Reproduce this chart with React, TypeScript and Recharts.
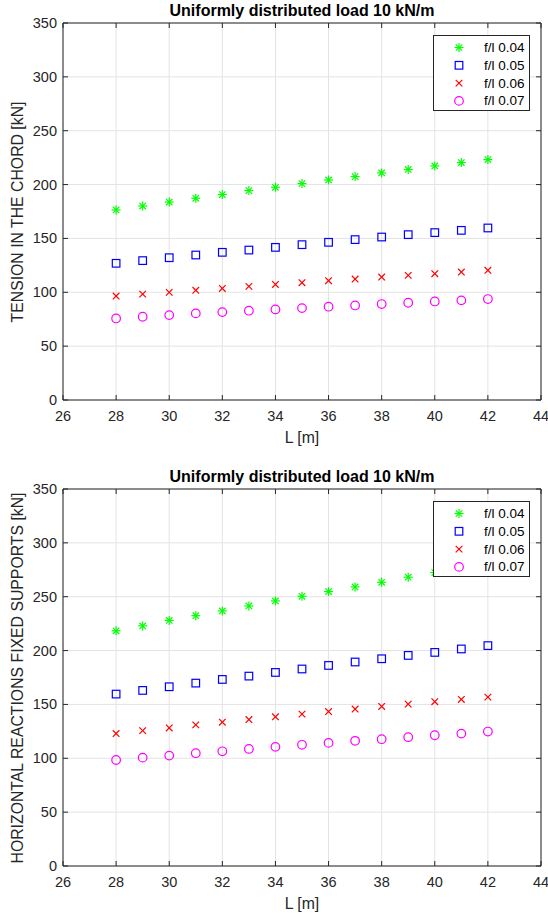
import React from "react";
import {
  ScatterChart,
  Scatter,
  XAxis,
  YAxis,
  CartesianGrid,
  ReferenceLine,
} from "recharts";

// span lengths L [m]
const spans = [28, 29, 30, 31, 32, 33, 34, 35, 36, 37, 38, 39, 40, 41, 42];

// tension in the chord [kN]
const tensionF004 = [176.4, 180.1, 183.8, 187.3, 190.7, 194.4, 197.5, 200.9, 204.3, 207.4, 210.8, 214.0, 217.3, 220.4, 223.2];
const tensionF005 = [126.9, 129.4, 132.1, 134.6, 137.1, 139.2, 141.7, 144.2, 146.4, 148.9, 151.3, 153.5, 155.4, 157.5, 159.7];
const tensionF006 = [96.5, 98.3, 99.9, 101.8, 103.6, 105.5, 107.3, 108.9, 110.8, 112.3, 114.1, 115.7, 117.3, 118.8, 120.4];
const tensionF007 = [75.7, 77.3, 78.8, 80.4, 81.6, 82.9, 84.1, 85.3, 86.6, 87.8, 89.1, 90.3, 91.5, 92.5, 93.7];

// horizontal reactions, fixed supports [kN]
const reactionF004 = [218.4, 222.9, 228.0, 232.4, 236.8, 241.4, 246.1, 250.4, 254.8, 259.1, 263.4, 268.1, 272.4, 276.8, 281.2];
const reactionF005 = [159.6, 163.0, 166.4, 169.8, 173.2, 176.3, 179.7, 182.9, 186.2, 189.4, 192.4, 195.5, 198.3, 201.5, 204.6];
const reactionF006 = [123.0, 125.7, 128.2, 131.0, 133.5, 136.0, 138.5, 141.0, 143.4, 145.7, 148.1, 150.3, 152.5, 154.6, 156.8];
const reactionF007 = [98.4, 100.6, 102.5, 104.7, 106.5, 108.7, 110.6, 112.5, 114.3, 116.2, 117.7, 119.6, 121.4, 122.9, 124.8];

const seriesNames = ["f/l 0.04", "f/l 0.05", "f/l 0.06", "f/l 0.07"];
const seriesColors = ["#00ff00", "#0000ff", "#ff0000", "#ff00ff"];
const seriesMarkers = ["star", "square", "cross", "circle"];

const xTicks = [26, 28, 30, 32, 34, 36, 38, 40, 42, 44];
const yTicks = [0, 50, 100, 150, 200, 250, 300, 350];

const chartTitle = "Uniformly distributed load 10 kN/m";
const xLabel = "L [m]";

const W = 548;
const H = 451;
const PLOT_LEFT = 63;
const PLOT_RIGHT = 541;
const PLOT_TOP = 23;
const PLOT_BOTTOM = 400;
const FONT = "'Liberation Sans', Arial, Helvetica, sans-serif";
const AXIS = "#262626";
const TICK_FONT = 14.5;

function Marker({ kind, cx, cy, color }: { kind: string; cx: number; cy: number; color: string }) {
  if (kind === "star") {
    const r = 4.5;
    const d = 3.2;
    return (
      <g stroke={color} strokeWidth={1.2}>
        <line x1={cx - r} y1={cy} x2={cx + r} y2={cy} />
        <line x1={cx} y1={cy - r} x2={cx} y2={cy + r} />
        <line x1={cx - d} y1={cy - d} x2={cx + d} y2={cy + d} />
        <line x1={cx - d} y1={cy + d} x2={cx + d} y2={cy - d} />
      </g>
    );
  }
  if (kind === "square") {
    return <rect x={cx - 3.8} y={cy - 3.8} width={7.6} height={7.6} fill="none" stroke={color} strokeWidth={1.2} />;
  }
  if (kind === "cross") {
    const d = 3.3;
    return (
      <g stroke={color} strokeWidth={1.2}>
        <line x1={cx - d} y1={cy - d} x2={cx + d} y2={cy + d} />
        <line x1={cx - d} y1={cy + d} x2={cx + d} y2={cy - d} />
      </g>
    );
  }
  return <circle cx={cx} cy={cy} r={4.3} fill="none" stroke={color} strokeWidth={1.2} />;
}

function XTick(props: any) {
  const { x, payload } = props;
  return (
    <g>
      <line x1={x} x2={x} y1={PLOT_BOTTOM} y2={PLOT_BOTTOM - 5} stroke={AXIS} />
      <line x1={x} x2={x} y1={PLOT_TOP} y2={PLOT_TOP + 5} stroke={AXIS} />
      <text x={x} y={PLOT_BOTTOM + 21} textAnchor="middle" fontSize={TICK_FONT} fill={AXIS} fontFamily={FONT}>
        {payload.value}
      </text>
    </g>
  );
}

function YTick(props: any) {
  const { y, payload } = props;
  return (
    <g>
      <line x1={PLOT_LEFT} x2={PLOT_LEFT + 5} y1={y} y2={y} stroke={AXIS} />
      <line x1={PLOT_RIGHT} x2={PLOT_RIGHT - 5} y1={y} y2={y} stroke={AXIS} />
      <text x={PLOT_LEFT - 6} y={y + 5} textAnchor="end" fontSize={TICK_FONT} fill={AXIS} fontFamily={FONT}>
        {payload.value}
      </text>
    </g>
  );
}

function LegendBox() {
  return (
    <svg
      width={97}
      height={76}
      style={{ position: "absolute", left: 433, top: 35, background: "#fff" }}
    >
      <rect x={0.5} y={0.5} width={96} height={75} fill="#fff" stroke={AXIS} strokeWidth={1} />
      {seriesNames.map((name, i) => {
        const cy = 12.5 + i * 17.8;
        return (
          <g key={name}>
            <Marker kind={seriesMarkers[i]} cx={26} cy={cy} color={seriesColors[i]} />
            <text x={51} y={cy + 4.5} fontSize={13.5} fill="#000" fontFamily={FONT}>
              {name}
            </text>
          </g>
        );
      })}
    </svg>
  );
}

function LoadChart({ top, yLabel, values }: { top: number; yLabel: string; values: number[][] }) {
  const series = values.map((vals) => spans.map((L, i) => ({ L, v: vals[i] })));
  return (
    <div style={{ position: "absolute", left: 0, top, width: W, height: H, fontFamily: FONT }}>
      <div
        style={{
          position: "absolute",
          left: 0,
          width: PLOT_LEFT + PLOT_RIGHT,
          top: 2,
          textAlign: "center",
          fontWeight: "bold",
          fontSize: 16,
          lineHeight: "18px",
          color: "#000",
          whiteSpace: "nowrap",
        }}
      >
        {chartTitle}
      </div>
      <div
        style={{
          position: "absolute",
          left: 18 - 200,
          top: (PLOT_TOP + PLOT_BOTTOM) / 2 - 10,
          width: 400,
          lineHeight: "20px",
          textAlign: "center",
          fontSize: 15.8,
          color: AXIS,
          transform: "rotate(-90deg)",
          whiteSpace: "nowrap",
        }}
      >
        {yLabel}
      </div>
      <div style={{ position: "absolute", left: 0, top: 0 }}>
        <ScatterChart
          width={W}
          height={H}
          margin={{ top: PLOT_TOP, right: W - PLOT_RIGHT, bottom: 0, left: 0 }}
        >
          <CartesianGrid stroke="#e3e3e3" strokeWidth={1} />
          <XAxis
            type="number"
            dataKey="L"
            domain={[26, 44]}
            ticks={xTicks}
            interval={0}
            height={H - PLOT_BOTTOM}
            tickSize={0}
            tick={(p: any) => <XTick {...p} />}
            axisLine={{ stroke: AXIS }}
            label={{ value: xLabel, position: "insideBottom", offset: 8, fontSize: 15.8, fill: AXIS, fontFamily: FONT }}
          />
          <YAxis
            type="number"
            dataKey="v"
            domain={[0, 350]}
            ticks={yTicks}
            interval={0}
            width={PLOT_LEFT}
            tickSize={0}
            tick={(p: any) => <YTick {...p} />}
            axisLine={{ stroke: AXIS }}
          />
          <ReferenceLine y={350} stroke={AXIS} />
          <ReferenceLine x={44} stroke={AXIS} />
          {series.map((data, i) => (
            <Scatter
              key={seriesNames[i]}
              name={seriesNames[i]}
              data={data}
              isAnimationActive={false}
              shape={(p: any) => <Marker kind={seriesMarkers[i]} cx={p.cx} cy={p.cy} color={seriesColors[i]} />}
            />
          ))}
        </ScatterChart>
      </div>
      <LegendBox />
    </div>
  );
}

export default function App() {
  return (
    <div style={{ position: "absolute", left: 0, top: 0, width: W, height: 917, background: "#fff" }}>
      <LoadChart
        top={0}
        yLabel="TENSION IN THE CHORD [kN]"
        values={[tensionF004, tensionF005, tensionF006, tensionF007]}
      />
      <LoadChart
        top={466}
        yLabel="HORIZONTAL REACTIONS FIXED SUPPORTS [kN]"
        values={[reactionF004, reactionF005, reactionF006, reactionF007]}
      />
    </div>
  );
}
